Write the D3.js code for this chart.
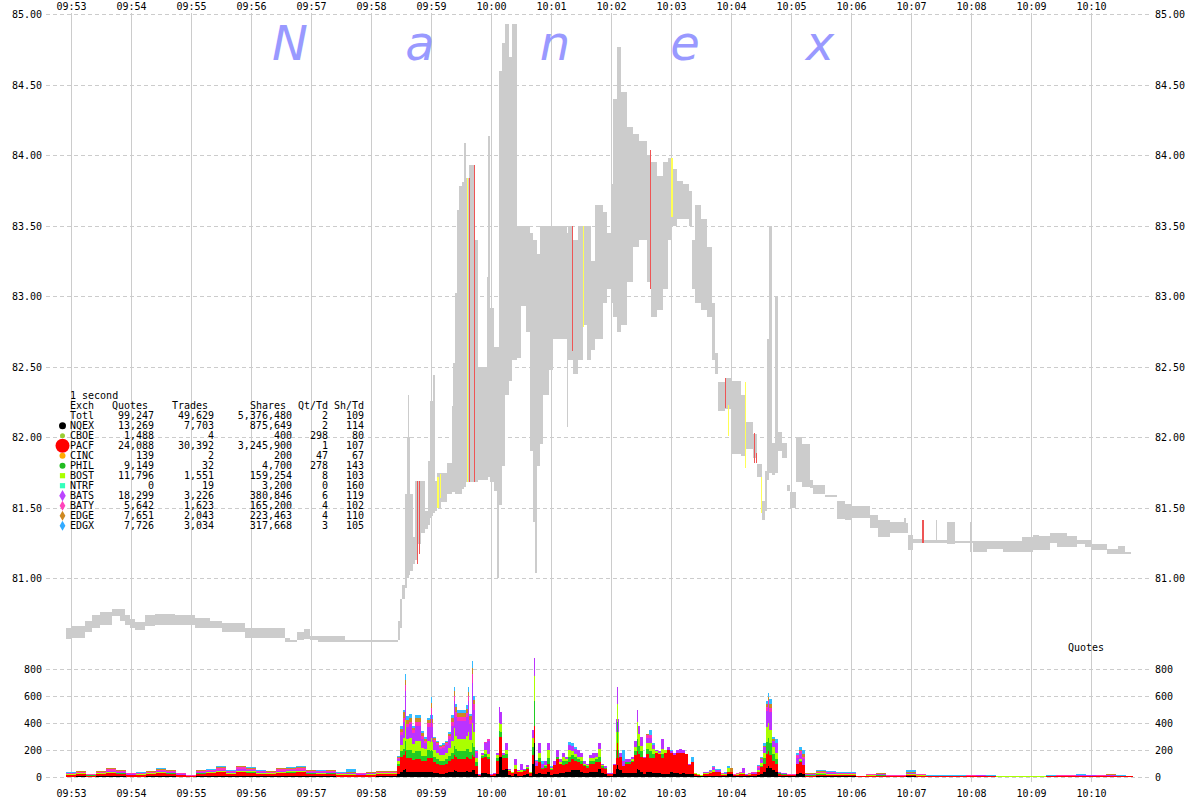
<!DOCTYPE html>
<html><head><meta charset="utf-8">
<script src="https://cdn.jsdelivr.net/npm/d3@7"></script>
<style>
html,body{margin:0;padding:0;background:#fff;}
svg{display:block;font-family:"DejaVu Sans Mono",monospace;font-size:10px;}
</style></head><body>
<svg id="chart" width="1200" height="800"></svg>
<script>
// ---------------- DATA ----------------
// time in seconds after 09:53:00
const minuteLabels = ["09:53","09:54","09:55","09:56","09:57","09:58","09:59","10:00","10:01","10:02","10:03","10:04","10:05","10:06","10:07","10:08","10:09","10:10"];
const priceTicks = [81,81.5,82,82.5,83,83.5,84,84.5,85];
const volumeTicks = [0,200,400,600,800];

// price range per time segment (gray)
const priceT = [-5,1,14,21,29,41,49,54,59,64,74,84,104,124,139,151,174,214,219,226,233,239,247,274,327,329,331,334,336,337,338,339,342,344,346,350,354,357,359,360,361,362,364,366,370,376,381,382,384,386,388,391,393,395,398,404,407,416,417,419,423,426,428,431,434,438,441,446,450,455,459,462,464,466,469,472,478,482,496,497,502,507,512,516,520,524,532,536,540,542,546,550,556,562,568,576,580,586,592,597,601,606,612,618,621,624,630,636,641,644,647,654,661,670,674,682,686,691,694,696,698,701,704,707,711,716,719,725,731,739,742,754,766,774,781,799,807,819,833,835,837,842,853,865,866,876,884,899,900,902,916,932,951,962,968,979,986,996,1006,1014,1021,1036,1047,1054];
const priceEnd = 1060;
const priceLow = [80.57,80.58,80.62,80.65,80.67,80.73,80.70,80.67,80.65,80.63,80.66,80.67,80.67,80.65,80.65,80.62,80.58,80.55,80.55,80.56,80.57,80.56,80.55,80.55,80.56,80.65,80.85,80.93,81.00,81.00,81.02,81.05,81.10,81.13,81.24,81.32,81.35,81.38,81.43,81.43,81.44,81.46,81.48,81.50,81.54,81.60,81.61,81.61,81.60,81.60,81.60,81.63,81.65,81.68,81.68,81.68,81.70,81.70,81.72,81.68,81.62,81.00,81.52,81.80,82.30,82.40,82.55,82.56,82.93,82.75,81.90,81.40,81.04,81.80,81.95,82.30,82.48,82.70,82.07,82.55,82.45,82.55,82.80,82.55,82.62,82.70,82.95,83.05,82.95,82.85,82.75,82.80,83.10,83.35,83.40,83.10,82.85,82.90,83.05,83.40,83.50,83.55,83.55,83.50,83.05,82.95,82.90,82.85,82.55,82.45,82.19,82.20,81.88,81.87,81.92,81.85,81.72,81.41,81.48,81.70,81.75,81.73,81.75,81.90,81.85,81.62,81.50,81.68,81.65,81.64,81.60,81.575,81.42,81.41,81.43,81.36,81.29,81.32,81.32,81.32,81.20,81.25,81.25,81.25,81.25,81.24,81.25,81.19,81.25,81.19,81.21,81.19,81.19,81.20,81.20,81.25,81.22,81.22,81.24,81.22,81.20,81.17,81.17,81.17];
const priceHigh = [80.65,80.66,80.70,80.74,80.76,80.78,80.78,80.74,80.71,80.69,80.74,80.75,80.74,80.72,80.70,80.68,80.65,80.58,80.56,80.62,80.64,80.59,80.59,80.56,80.70,80.85,80.95,81.60,82.00,82.30,82.00,81.60,81.29,81.69,81.69,81.69,81.48,81.83,82.26,82.93,82.26,82.44,81.69,81.75,81.75,81.82,82.22,82.53,83.02,83.61,83.78,83.81,84.09,83.84,83.93,83.40,82.50,83.14,84.14,82.92,82.64,82.64,84.60,84.80,84.93,84.70,84.93,83.50,83.50,83.50,83.45,83.40,83.40,83.30,83.50,83.50,83.50,83.50,83.45,83.50,83.40,83.50,83.50,83.50,83.25,83.65,83.60,83.45,83.80,84.40,84.77,84.45,84.20,84.15,84.10,84.00,83.95,83.85,83.95,83.98,83.90,83.82,83.80,83.75,83.40,83.65,83.55,83.35,82.95,82.60,82.39,82.42,82.40,82.30,82.11,82.02,81.81,81.55,81.76,82.70,83.50,81.96,83.00,82.04,81.96,81.66,81.61,82.00,81.95,81.70,81.66,81.59,81.55,81.53,81.51,81.45,81.41,81.40,81.43,81.39,81.31,81.28,81.27,81.41,81.27,81.40,81.265,81.40,81.265,81.265,81.265,81.265,81.29,81.31,81.30,81.32,81.32,81.30,81.275,81.27,81.24,81.21,81.23,81.19];

// highlighted single-second ranges
const markT = [346,348,366,367,369,396,398,403,501,512,579,600,601,654,657,674,683,685,690,851,852];
const markLow = [81.10,81.17,81.50,81.50,81.57,81.68,81.68,81.68,82.61,82.78,83.05,83.56,83.56,82.21,82.01,81.78,81.82,81.82,81.46,81.25,81.25];
const markHigh = [81.69,81.69,81.72,81.72,81.74,83.84,83.84,83.93,83.50,83.50,84.04,83.98,83.98,82.42,82.23,82.39,82.03,81.89,81.72,81.41,81.41];
const markKind = ["r","r","y","y","y","y","r","r","r","y","r","y","y","r","y","y","r","r","y","r","r"];

// quote volume bins (start second), bins run to next start
const volT = [-5,5,15,25,35,45,55,65,75,85,95,105,115,125,135,145,155,165,175,185,195,205,215,225,235,245,255,265,275,285,295,305,315,
326,329,332,335,338,341,344,347,350,353,356,359,362,365,368,371,374,377,380,383,386,389,392,395,398,401,404,407,410,413,416,419,422,425,428,431,434,437,440,443,446,449,452,455,458,461,464,467,470,473,476,479,482,485,488,491,494,497,500,503,506,509,512,515,518,521,524,527,530,533,536,539,542,545,548,551,554,557,560,563,566,569,572,575,578,581,584,587,590,593,596,599,602,605,608,611,614,617,620,623,626,629,632,635,638,641,644,647,650,653,656,659,662,665,668,671,674,677,680,683,686,689,692,695,698,701,704,707,710,713,716,719,722,725,728,731,
734,745,755,765,775,785,795,805,815,825,835,845,855,865,875,885,895,905,915,925,935,945,955,965,975,985,995,1005,1015,1025,1035,1045,1055];
const volEnd = 1062;
const volNQEX = [3,4,2,4,6,5,3,3,4,5,5,3,1,5,5,7,4,7,6,4,4,6,6,7,5,4,5,3,3,3,3,4,4,
20,40,50,40,40,35,40,40,35,35, 40,40,30,30,25,25,30,35,40,45, 40,40,40,45,40,50,25,5,30,30, 20,5,5,20,150,50,60,15,10,20, 10,10,15,20,10,100,20,30,20,20, 40,15,20,20,30,30,40,40,50,50, 50,40,30,30,40,40,40,60,30,20, 10,10,20,60,50,30,30,30,30,30, 50,40,20,40,40,30,30,30,20,20, 20,40,30,30,20,30,20,20,20,10, 5,5,10,10,10,10,10,10,5,5, 20,20,5,5,8,5,5,5,8,8, 15,25,40,70,70,50,40,10,8,8, 5,5,5,20,30,20,
3,5,4,4,4,1,3,3,2,2,4,3,1,1,1,1,2,2,1,1,1,1,1,1,1,2,2,2,2,2,2,1,1];
const volPACF = [12,15,9,15,24,19,10,12,15,22,19,10,5,19,21,27,17,29,26,17,15,24,26,27,19,17,19,12,14,10,14,15,15,
60,110,110,100,100,90,90,90,80,80, 100,100,80,70,65,65,70,80,90,100, 95,95,90,100,90,100,60,10,110,120, 110,10,15,100,150,90,80,30,20,40, 25,30,30,40,20,60,60,80,40,50, 60,40,70,110,70,60,60,70,80,70, 60,60,50,40,60,60,70,50,40,40, 15,15,70,80,100,50,70,70,80,130, 120,110,120,130,100,110,150,140,120,160, 180,140,130,150,160,150,150,70,90,15, 10,5,15,15,20,30,25,25,10,12, 20,20,8,12,15,20,8,10,12,12, 25,50,60,100,90,70,60,15,10,10, 7,7,7,80,80,70,
8,12,11,9,9,3,6,8,4,4,10,6,3,3,3,3,4,5,3,2,2,2,2,2,3,4,4,5,5,4,5,3,3];
const volPHIL = [1,2,1,2,2,2,1,1,2,2,2,1,1,2,2,3,2,3,2,2,2,2,2,3,2,2,2,1,1,1,1,2,2,
15,40,50,60,60,50,60,60,40,40, 60,50,40,35,30,30,35,40,50,60, 60,60,60,60,55,70,25,0,15,20, 20,0,2,20,30,20,30,0,0,0, 5,0,5,5,3,60,5,30,5,10, 40,5,0,20,0,30,20,40,30,30, 20,20,10,10,20,20,20,40,10,5, 0,0,0,60,0,0,10,10,10,30, 60,40,0,40,50,30,0,0,30,0, 0,0,0,0,0,0,0,0,0,0, 0,0,0,0,0,0,0,0,0,0, 0,0,0,0,0,0,0,0,0,0, 0,10,40,90,90,50,30,3,2,2, 1,1,1,0,10,0,
1,2,2,1,1,0,1,1,1,1,2,1,1,1,1,1,1,1,1,0,0,0,0,0,1,1,1,1,1,1,1,1,0];
const volBOST = [4,5,3,5,7,5,3,4,5,7,5,3,2,5,6,8,5,9,8,5,5,7,8,8,5,5,5,4,4,3,4,5,5,
20,50,80,80,90,70,80,80,60,50, 70,70,50,45,40,45,45,60,90,100, 90,90,95,100,90,110,30,2,10,30, 20,2,3,20,60,0,30,10,5,30, 5,10,5,10,3,70,0,40,5,10, 60,5,0,0,10,30,10,50,30,20, 20,30,10,10,20,20,20,60,10,5, 0,0,0,130,0,0,0,0,10,30, 90,40,0,40,60,40,10,10,40,20, 0,0,0,0,0,0,0,0,0,5, 5,5,5,5,5,10,5,5,5,5, 30,0,2,5,5,5,3,5,5,5, 10,20,40,110,100,50,50,3,3,3, 2,2,2,0,10,0,
5,7,7,5,5,2,4,5,2,2,6,4,2,2,2,2,2,3,2,1,1,1,1,1,2,2,2,3,3,2,3,2,2];
const volBATS = [4,5,3,5,9,7,4,4,5,8,7,4,2,7,7,10,6,10,9,6,5,9,9,10,7,6,7,4,5,4,5,5,5,
20,70,120,90,100,80,110,110,70,50, 100,110,60,55,50,50,55,70,110,140, 130,130,130,140,120,170,40,3,10,50, 100,3,3,20,90,20,50,5,5,40, 5,50,5,15,4,60,20,70,30,25, 50,10,30,50,20,30,20,40,40,40, 50,30,20,10,20,40,30,40,10,10, 5,5,10,100,30,40,20,20,20,50, 60,70,10,40,40,30,10,10,70,0, 20,10,20,20,30,20,0,10,0,0, 0,0,5,5,5,20,10,10,5,5, 0,0,2,3,5,40,4,5,6,6, 20,25,40,120,130,50,70,5,4,4, 3,3,3,40,40,40,
3,5,5,4,4,1,3,3,2,2,4,3,1,1,1,1,2,2,1,1,1,1,1,1,1,2,2,2,2,2,2,1,1];
const volBATY = [5,7,4,7,10,8,5,5,7,10,8,5,2,8,9,12,8,13,11,8,7,10,11,12,8,8,8,5,6,5,6,7,7,
5,20,30,20,20,20,30,30,20,15, 30,30,15,15,10,15,15,20,30,35, 30,30,30,30,30,40,10,0,0,10, 10,0,2,0,0,0,0,0,0,0, 0,0,0,0,0,0,10,0,0,0, 0,0,0,0,0,0,0,0,0,0, 0,0,0,0,0,0,0,0,0,0, 0,0,0,0,0,0,0,0,0,0, 0,0,0,20,20,0,0,0,0,0, 0,0,0,0,0,0,0,0,0,0, 0,0,5,5,5,5,5,5,3,3, 0,0,2,3,4,0,3,3,4,4, 10,5,0,30,30,0,0,2,2,2, 1,1,1,20,20,20,
4,7,7,5,5,1,4,4,2,2,6,4,2,2,2,2,2,3,2,1,1,1,1,1,2,2,2,3,3,2,3,2,1];
const volEDGE = [3,3,1,3,5,4,2,3,3,5,4,2,1,4,5,6,4,7,6,4,3,5,6,6,4,4,4,3,3,2,3,3,3,
5,25,40,30,30,20,30,30,20,15, 25,30,15,10,10,10,10,15,30,35, 30,30,30,30,25,30,5,0,0,0, 0,0,0,0,0,0,0,0,0,0, 0,0,0,0,0,0,0,0,0,0, 0,0,0,0,0,0,0,0,0,0, 0,0,0,0,0,0,0,0,0,0, 0,0,0,0,0,0,0,0,0,0, 0,0,0,10,0,0,0,0,0,0, 0,0,0,0,0,0,0,0,0,0, 0,0,0,0,0,0,0,0,0,3, 0,30,1,2,3,0,1,1,3,3, 5,5,10,20,30,10,0,1,1,1, 1,1,1,0,10,20,
3,5,4,3,3,1,2,3,1,1,4,2,1,1,1,1,1,1,1,1,1,1,1,1,1,1,1,2,1,1,3,1,1];
const volEDGX = [3,4,2,4,7,5,2,3,4,6,5,2,1,5,5,7,4,7,7,4,4,7,7,7,5,4,5,3,24,2,4,4,4,
10,25,20,30,30,15,20,20,15,15, 15,30,10,10,10,10,10,10,20,25, 25,25,25,25,20,30,5,0,5,0, 0,0,0,0,0,0,0,0,0,0, 0,0,0,0,0,0,10,0,20,5, 0,5,0,0,0,0,0,20,20,10, 0,0,0,0,0,0,0,0,0,0, 0,0,0,0,0,80,0,0,0,0, 0,0,0,0,40,10,0,0,0,0, 0,10,0,0,0,0,0,0,40,0, 0,0,0,0,5,5,5,5,2,2, 10,0,0,0,0,0,1,1,2,2, 5,10,20,20,40,20,30,1,0,0, 0,0,0,20,20,30,
3,7,5,4,4,1,2,3,1,1,14,2,1,1,1,1,1,1,1,1,1,1,1,1,1,1,1,2,1,1,3,1,1];

// single-second peaks within the bins above
const spikeT    = [334,360,383,397,401,428,463,546,566,697];
const spikeNQEX = [60,40,50,40,50,150,250,90,60,80];
const spikePACF = [130,100,110,100,110,150,130,160,130,110];
const spikePHIL = [80,60,70,70,90,40,180,160,90,100];
const spikeBOST = [150,90,130,120,150,60,185,130,130,110];
const spikeBATS = [220,180,200,230,300,120,140,130,90,140];
const spikeBATY = [40,40,40,40,60,0,0,0,0,30];
const spikeEDGE = [40,40,40,30,50,0,0,0,0,20];
const spikeEDGX = [40,40,30,40,50,0,0,0,0,30];

// summary table
const exchNames  = ["Totl","NQEX","CBOE","PACF","CINC","PHIL","BOST","NTRF","BATS","BATY","EDGE","EDGX"];
const exchQuotes = [99247,13269,1488,24088,139,9149,11796,0,18299,5642,7651,7726];
const exchTrades = [49629,7703,4,30392,2,32,1551,19,3226,1623,2043,3034];
const exchShares = [5376480,875649,400,3245900,200,4700,159254,3200,380846,165200,223463,317668];
const exchQtTd   = [2,2,298,1,47,278,8,0,6,4,4,3];
const exchShTd   = [109,114,80,107,67,143,103,160,119,102,110,105];

// ---------------- STYLE ----------------
const volSeries = [
  {name:"NQEX", values:volNQEX, spikes:spikeNQEX, color:"#000000"},
  {name:"PACF", values:volPACF, spikes:spikePACF, color:"#ff0000"},
  {name:"PHIL", values:volPHIL, spikes:spikePHIL, color:"#22cc22"},
  {name:"BOST", values:volBOST, spikes:spikeBOST, color:"#aaff00"},
  {name:"BATS", values:volBATS, spikes:spikeBATS, color:"#bb33ff"},
  {name:"BATY", values:volBATY, spikes:spikeBATY, color:"#ff33bb"},
  {name:"EDGE", values:volEDGE, spikes:spikeEDGE, color:"#cc8822"},
  {name:"EDGX", values:volEDGX, spikes:spikeEDGX, color:"#33bbff"}
];
const legendMarker = {
  NQEX:{s:d3.symbolCircle, r:3.5, c:"#000000"},
  CBOE:{s:d3.symbolCircle, r:2.5, c:"#99cc33"},
  PACF:{s:d3.symbolCircle, r:7, c:"#ff0000"},
  CINC:{s:d3.symbolCircle, r:3, c:"#ffaa00"},
  PHIL:{s:d3.symbolCircle, r:3, c:"#22bb22"},
  BOST:{s:d3.symbolSquare, r:2.6, c:"#aaff00"},
  NTRF:{s:d3.symbolSquare, r:2.6, c:"#33ffbb"},
  BATS:{s:d3.symbolDiamond, r:4.5, c:"#bb44ff"},
  BATY:{s:d3.symbolDiamond, r:4, c:"#ff44bb"},
  EDGE:{s:d3.symbolDiamond, r:4, c:"#cc8822"},
  EDGX:{s:d3.symbolDiamond, r:4, c:"#33aaff"}
};
const markColors = {r:"#ee5555", y:"#ffff55"};
const gridColor = "#cccccc";

// ---------------- CHART ----------------
const svg = d3.select("#chart");
const x = d3.scaleLinear().domain([0, 60]).range([71, 131]);
const yP = d3.scaleLinear().domain([81, 85]).range([578.3, 14.3]);
const yV = d3.scaleLinear().domain([0, 800]).range([777, 669]);
const minuteTicks = minuteLabels.map((_, i) => i * 60);
const fmtMin = (d) => minuteLabels[minuteTicks.indexOf(d)];

const gridLeft = 46, gridRight = 1150;

// vertical grid
svg.append("g").attr("transform","translate(0,782)")
  .call(d3.axisBottom(x).tickValues(minuteTicks).tickSize(-769).tickFormat(""))
  .call(g => { g.select(".domain").remove(); g.selectAll("line").attr("stroke",gridColor).attr("shape-rendering","crispEdges"); });

// horizontal dashed grids + labels
function yAxis(scale, ticks, fmt) {
  svg.append("g").attr("transform",`translate(${gridLeft},0)`)
    .call(d3.axisLeft(scale).tickValues(ticks).tickSize(-(gridRight - gridLeft)).tickPadding(4).tickFormat(fmt))
    .call(g => { g.select(".domain").remove();
      g.selectAll("line").attr("stroke",gridColor).attr("stroke-dasharray","4,3").attr("shape-rendering","crispEdges");
      g.selectAll("text").attr("fill","#000").style("font-family","'DejaVu Sans Mono',monospace").style("font-size","10px"); });
  svg.append("g").attr("transform",`translate(${gridRight},0)`)
    .call(d3.axisRight(scale).tickValues(ticks).tickSize(0).tickPadding(5).tickFormat(fmt))
    .call(g => { g.select(".domain").remove();
      g.selectAll("text").attr("fill","#000").style("font-family","'DejaVu Sans Mono',monospace").style("font-size","10px"); });
}
yAxis(yP, priceTicks, d3.format(".2f"));
yAxis(yV, volumeTicks, d3.format("d"));

// time labels top & bottom
function timeAxis(axis, ty, pad) {
  svg.append("g").attr("transform",`translate(0,${ty})`)
    .call(axis(x).tickValues(minuteTicks).tickSize(0).tickPadding(pad).tickFormat(fmtMin))
    .call(g => { g.select(".domain").remove();
      g.selectAll("text").attr("fill","#000").style("font-family","'DejaVu Sans Mono',monospace").style("font-size","10px"); });
}
timeAxis(d3.axisTop, 13, 3.5);
timeAxis(d3.axisBottom, 782, 8);

// watermark
const wm = ["N","a","n","e","x"];
const wmX = [290, 420, 555, 685, 820];
svg.append("g").selectAll("text").data(wm).join("text")
  .attr("x",(d,i)=>wmX[i]).attr("y",60).attr("text-anchor","middle")
  .style("font-family","'DejaVu Sans',sans-serif").style("font-style","italic").style("font-size","48px")
  .attr("fill","#9999ff").text(d=>d);

// price bars
const pIdx = d3.range(priceT.length);
svg.append("g").attr("shape-rendering","crispEdges").selectAll("rect").data(pIdx).join("rect")
  .attr("x", i => x(priceT[i]))
  .attr("width", i => Math.max(1, x(i + 1 < priceT.length ? priceT[i+1] : priceEnd) - x(priceT[i])))
  .attr("y", i => yP(priceHigh[i]))
  .attr("height", i => Math.max(1.2, yP(priceLow[i]) - yP(priceHigh[i])))
  .attr("fill", "#cccccc");

// highlighted marks
svg.append("g").attr("shape-rendering","crispEdges").selectAll("rect").data(d3.range(markT.length)).join("rect")
  .attr("x", i => x(markT[i])).attr("width", 1)
  .attr("y", i => yP(markHigh[i]))
  .attr("height", i => Math.max(1, yP(markLow[i]) - yP(markHigh[i])))
  .attr("fill", i => markColors[markKind[i]]);

// volume stacked bars
const keys = volSeries.map(s => s.name);
function drawStack(rows) {
  const st = d3.stack().keys(keys)(rows);
  svg.append("g").attr("shape-rendering","crispEdges").selectAll("g").data(st).join("g")
    .attr("fill", (d, i) => volSeries[i].color)
    .selectAll("rect").data(d => d).join("rect")
    .attr("x", d => x(d.data.t))
    .attr("width", d => x(d.data.t1) - x(d.data.t))
    .attr("y", d => yV(d[1]))
    .attr("height", d => Math.max(0, yV(d[0]) - yV(d[1])));
}
drawStack(volT.map((t, i) => {
  const r = {t, t1: i + 1 < volT.length ? volT[i+1] : volEnd};
  volSeries.forEach(s => r[s.name] = s.values[i] || 0);
  return r;
}));
drawStack(spikeT.map((t, i) => {
  const r = {t, t1: t + 1};
  volSeries.forEach(s => r[s.name] = s.spikes[i] || 0);
  return r;
}));

svg.append("text").attr("x",1068).attr("y",651).attr("fill","#000").text("Quotes");

// legend table
const lg = svg.append("g").attr("fill","#000");
const base = 399.2, step = 10;
lg.append("text").attr("x",70).attr("y",base).text("1 second");
const hdr = [["Exch",70],["Quotes",112],["Trades",172],["Shares",250],["Qt/Td",298],["Sh/Td",334]];
hdr.forEach(h => lg.append("text").attr("x",h[1]).attr("y",base+step).text(h[0]));
const comma = d3.format(",");
exchNames.forEach((n, i) => {
  const yy = base + step * (i + 2);
  lg.append("text").attr("x",70).attr("y",yy).text(n);
  [[exchQuotes[i],154],[exchTrades[i],214],[exchShares[i],292],[exchQtTd[i],328],[exchShTd[i],364]]
    .forEach(c => lg.append("text").attr("x",c[1]).attr("y",yy).attr("text-anchor","end").text(comma(c[0])));
  const m = legendMarker[n];
  if (m) {
    const area = m.s === d3.symbolCircle ? Math.PI*m.r*m.r : (m.s === d3.symbolSquare ? (2*m.r)*(2*m.r) : 2*m.r*m.r*0.9);
    lg.append("path").attr("transform",`translate(62.5,${yy-3.5})`)
      .attr("d", d3.symbol().type(m.s).size(area)()).attr("fill", m.c);
  }
});
</script>
</body></html>
